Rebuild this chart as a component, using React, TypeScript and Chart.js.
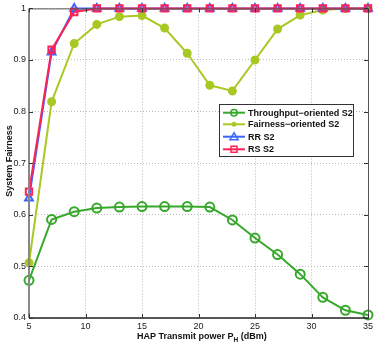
import React, { useEffect, useRef } from "react";
import { Chart, registerables } from "chart.js";

Chart.register(...registerables);

const powers = [5, 7, 9, 11, 13, 15, 17, 19, 21, 23, 25, 27, 29, 31, 33, 35];
const throughputOriented = [0.473, 0.591, 0.606, 0.613, 0.615, 0.616, 0.616, 0.616, 0.615, 0.59, 0.555, 0.523, 0.485, 0.44, 0.415, 0.406];
const fairnessOriented = [0.507, 0.819, 0.932, 0.969, 0.984, 0.986, 0.962, 0.913, 0.851, 0.84, 0.9, 0.96, 0.987, 0.997, 1.0, 1.0];
const rrS2 = [0.632, 0.915, 1.0, 1.0, 1.0, 1.0, 1.0, 1.0, 1.0, 1.0, 1.0, 1.0, 1.0, 1.0, 1.0, 1.0];
const rsS2 = [0.645, 0.92, 0.993, 1.0, 1.0, 1.0, 1.0, 1.0, 1.0, 1.0, 1.0, 1.0, 1.0, 1.0, 1.0, 1.0];
const seriesNames = ["Throughput\u2212oriented S2", "Fairness\u2212oriented S2", "RR S2", "RS S2"];
const xTicks = [5, 10, 15, 20, 25, 30, 35];
const yTicks = [0.4, 0.5, 0.6, 0.7, 0.8, 0.9, 1];
const xTitle = "HAP Transmit power P";
const xTitleSub = "H";
const xTitleEnd = " (dBm)";
const yTitle = "System Fairness";

const GREEN = "#38a82c";
const LIME = "#a8c824";
const BLUE = "#3a66ff";
const RED = "#ff2255";
const FONT = "'Liberation Sans', Arial, sans-serif";

const toPts = (arr: number[]) => powers.map((x, i) => ({ x, y: arr[i] }));

export default function App() {
  const ref = useRef<HTMLCanvasElement | null>(null);
  useEffect(() => {
    document.body.style.margin = "0";
    const canvas = ref.current!;
    const styles = [
      { color: GREEN, point: "circle", fill: false, r: 4.5 },
      { color: LIME, point: "circle", fill: true, r: 3.5 },
      { color: BLUE, point: "triangle", fill: false, r: 4.5 },
      { color: RED, point: "rect", fill: false, r: 4.5 },
    ];
    const overlay = {
      id: "overlay",
      afterDraw(chart: any) {
        const ctx = chart.ctx as CanvasRenderingContext2D;
        const a = chart.chartArea;
        const xs = chart.scales.x;
        const ys = chart.scales.y;
        ctx.save();
        ctx.setLineDash([]);
        // box
        ctx.lineWidth = 1;
        ctx.strokeStyle = "#555";
        ctx.beginPath();
        ctx.moveTo(a.left, a.top + 0.5);
        ctx.lineTo(a.right + 0.5, a.top + 0.5);
        ctx.lineTo(a.right + 0.5, a.bottom);
        ctx.stroke();
        ctx.strokeStyle = "#888";
        ctx.lineWidth = 2;
        ctx.beginPath();
        ctx.moveTo(a.left, a.top);
        ctx.lineTo(a.left, a.bottom);
        ctx.stroke();
        ctx.strokeStyle = "#222";
        ctx.lineWidth = 1.5;
        ctx.beginPath();
        ctx.moveTo(a.left, a.bottom);
        ctx.lineTo(a.right + 1, a.bottom);
        ctx.stroke();
        // inner ticks
        ctx.strokeStyle = "#333";
        ctx.lineWidth = 1;
        ctx.beginPath();
        yTicks.forEach((v) => {
          const y = Math.round(ys.getPixelForValue(v)) + 0.5;
          ctx.moveTo(a.left, y);
          ctx.lineTo(a.left + 4, y);
          ctx.moveTo(a.right, y);
          ctx.lineTo(a.right - 4, y);
        });
        xTicks.forEach((v) => {
          const x = Math.round(xs.getPixelForValue(v)) + 0.5;
          ctx.moveTo(x, a.bottom);
          ctx.lineTo(x, a.bottom - 4);
          ctx.moveTo(x, a.top);
          ctx.lineTo(x, a.top + 4);
        });
        ctx.stroke();

        // titles
        ctx.fillStyle = "#111";
        ctx.font = `bold 9px ${FONT}`;
        ctx.textBaseline = "alphabetic";
        ctx.textAlign = "left";
        let tx = 137;
        const ty = 339;
        ctx.fillText(xTitle, tx, ty);
        tx += ctx.measureText(xTitle).width;
        ctx.font = `bold 6.5px ${FONT}`;
        ctx.fillText(xTitleSub, tx, ty + 3);
        tx += ctx.measureText(xTitleSub).width;
        ctx.font = `bold 9px ${FONT}`;
        ctx.fillText(xTitleEnd, tx, ty);

        ctx.save();
        ctx.translate(10, 161);
        ctx.rotate(-Math.PI / 2);
        ctx.textAlign = "center";
        ctx.textBaseline = "middle";
        ctx.fillText(yTitle, 0, 0);
        ctx.restore();

        // legend
        const L = 219, T = 104, R = 353, B = 156;
        ctx.fillStyle = "#fff";
        ctx.fillRect(L, T, R - L, B - T);
        ctx.strokeStyle = "#333";
        ctx.lineWidth = 1;
        ctx.strokeRect(L + 0.5, T + 0.5, R - L, B - T);
        const rows = [112.7, 124.3, 136.7, 149.3];
        ctx.font = `bold 9px ${FONT}`;
        styles.forEach((s, i) => {
          const y = rows[i];
          ctx.strokeStyle = s.color;
          ctx.lineWidth = 2;
          ctx.beginPath();
          ctx.moveTo(223, y);
          ctx.lineTo(245, y);
          ctx.stroke();
          const cx = 234;
          ctx.lineWidth = 1.5;
          ctx.beginPath();
          if (s.point === "circle") {
            ctx.arc(cx, y, s.fill ? 2.5 : 3.2, 0, Math.PI * 2);
            if (s.fill) {
              ctx.fillStyle = s.color;
              ctx.fill();
            } else ctx.stroke();
          } else if (s.point === "triangle") {
            ctx.moveTo(cx, y - 4);
            ctx.lineTo(cx + 4, y + 3);
            ctx.lineTo(cx - 4, y + 3);
            ctx.closePath();
            ctx.stroke();
          } else {
            ctx.rect(cx - 3, y - 3, 6, 6);
            ctx.stroke();
          }
          ctx.fillStyle = "#111";
          ctx.textBaseline = "middle";
          ctx.textAlign = "left";
          ctx.fillText(seriesNames[i], 248, y + 0.5);
        });
        ctx.restore();
      },
    };

    const datasets = [throughputOriented, fairnessOriented, rrS2, rsS2].map((arr, i) => {
      const s = styles[i];
      return {
        label: seriesNames[i],
        data: toPts(arr),
        borderColor: s.color,
        backgroundColor: s.fill ? s.color : "rgba(0,0,0,0)",
        borderWidth: 2,
        pointStyle: s.point,
        pointRadius: s.r,
        pointBorderWidth: 2,
        pointBorderColor: s.color,
        pointBackgroundColor: s.fill ? s.color : "rgba(0,0,0,0)",
        tension: 0,
        clip: false as any,
        order: 3 - i,
      };
    });

    const chart = new Chart(canvas, {
      type: "line",
      data: { datasets: datasets as any },
      options: {
        responsive: false,
        animation: false,
        layout: { padding: { top: 6, right: 19, left: 0, bottom: 0 } },
        plugins: { legend: { display: false }, tooltip: { enabled: false } },
        scales: {
          x: {
            type: "linear",
            min: 5,
            max: 35,
            afterFit: (s: any) => {
              s.height = 28;
            },
            afterBuildTicks: (s: any) => {
              s.ticks = xTicks.map((v) => ({ value: v }));
            },
            border: { display: false, dash: [1, 2] },
            grid: { color: "#b8b8b8", lineWidth: 1, drawTicks: false } as any,
            ticks: {
              padding: 3,
              color: "#222",
              font: { family: FONT, size: 9 },
              maxRotation: 0,
            },
          },
          y: {
            type: "linear",
            min: 0.4,
            max: 1,
            afterFit: (s: any) => {
              s.width = 29;
            },
            afterBuildTicks: (s: any) => {
              s.ticks = yTicks.map((v) => ({ value: v }));
            },
            border: { display: false, dash: [1, 2] },
            grid: { color: "#b8b8b8", lineWidth: 1, drawTicks: false } as any,
            ticks: {
              padding: 3,
              color: "#222",
              font: { family: FONT, size: 9 },
              callback: (v: any) => (Math.abs(v - 1) < 1e-9 ? "1" : Number(v).toFixed(1)),
            },
          },
        },
      },
      plugins: [overlay],
    });
    return () => chart.destroy();
  }, []);
  return (
    <div style={{ width: 387, height: 346 }}>
      <canvas ref={ref} width={387} height={346} style={{ display: "block" }} />
    </div>
  );
}
